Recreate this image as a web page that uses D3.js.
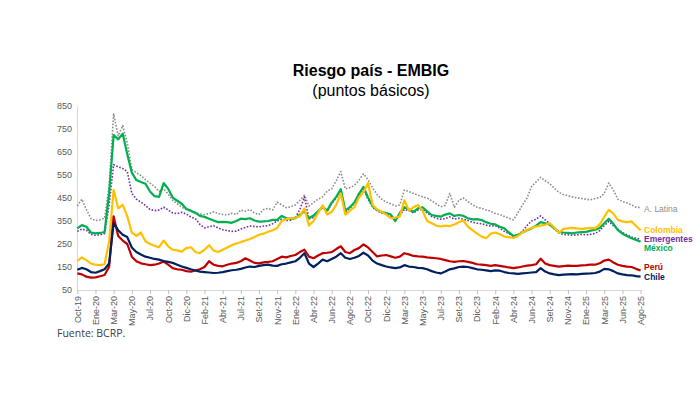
<!DOCTYPE html>
<html>
<head>
<meta charset="utf-8">
<script src="https://cdn.jsdelivr.net/npm/d3@7"></script>
<style>
  body { margin: 0; background: #fff; }
  svg { display: block; }
</style>
</head>
<body>
<div id="chart"></div>
<script>
// tick labels on the category axis (evenly spaced)
const tickLabels = ["Oct-19","Ene-20","Mar-20","May-20","Jul-20","Oct-20","Dic-20","Feb-21","Abr-21","Jul-21",
  "Set-21","Nov-21","Ene-22","Abr-22","Jun-22","Ago-22","Oct-22","Dic-22","Mar-23","May-23","Jul-23",
  "Set-23","Dic-23","Feb-24","Abr-24","Jun-24","Set-24","Nov-24","Ene-25","Mar-25","Jun-25","Ago-25"];

const step = 0.25;

const aLatina = [415,445,400,360, 352,355,362,500, 815,720,765,690, 575,560,548,530, 515,500,478,490,
  468,440,425,410, 400,392,388,380, 378,382,390,383, 378,376,384,378, 398,392,400,385,
  378,400,405,398, 432,420,408,412, 420,440,462,415, 430,445,455,480, 490,525,565,490,
  495,505,528,555, 530,495,465,445, 432,425,415,420, 485,478,470,462, 455,450,438,425,
  412,418,470,410, 440,450,435,420, 410,405,398,392, 383,378,370,362, 355,385,420,450,
  500,520,540,525, 512,492,475,465, 460,455,450,448, 445,442,448,452, 470,515,485,445,
  435,428,420,410, 408];

const mexico = [318,332,325,300, 296,298,302,470, 724,705,730,640, 560,528,520,512, 478,458,455,515,
  490,452,438,425, 402,395,385,372, 368,360,352,345, 346,345,342,350, 360,358,362,352,
  347,348,350,355, 355,372,362,360, 362,378,392,362, 374,392,412,395, 430,455,488,395,
  410,430,468,498, 452,415,398,390, 385,378,350,385, 410,400,390,405, 410,392,376,372,
  369,378,383,372, 376,372,362,357, 358,354,345,338, 335,325,318,300, 285,290,300,310,
  318,330,345,340, 334,318,303,300, 298,296,300,302, 303,308,312,320, 340,360,338,310,
  295,285,275,268, 260];

const emergentes = [305,315,310,292, 288,290,295,420, 595,585,578,565, 470,445,432,418, 400,395,398,410,
  398,385,382,388, 380,368,360,335, 320,325,330,320, 312,308,305,306, 315,322,328,326,
  325,328,330,338, 350,358,352,354, 365,400,455,360, 365,390,410,392, 425,452,480,390,
  405,428,460,490, 445,410,395,385, 378,372,352,375, 400,395,385,398, 400,385,370,362,
  358,360,368,358, 362,358,352,345, 340,338,332,328, 330,318,305,295, 284,290,305,330,
  350,358,372,355, 340,315,298,292, 290,288,290,292, 290,292,296,308, 330,348,330,315,
  300,290,280,275, 272];

const colombia = [176,192,180,165, 160,158,162,260, 485,405,420,370, 300,285,300,262, 250,242,236,265,
  240,225,222,217, 232,236,215,210, 225,245,222,215, 225,235,245,252, 258,265,272,280,
  290,295,303,310, 320,350,358,362, 365,370,405,330, 350,385,418,378, 390,420,470,378,
  395,410,452,475, 515,420,400,390, 378,362,365,370, 440,395,410,420, 395,350,340,330,
  326,330,328,335, 345,352,325,310, 295,282,275,295, 300,292,282,280, 276,285,300,312,
  320,326,330,334, 340,322,298,316, 318,320,318,316, 318,320,318,335, 368,398,382,355,
  348,345,348,328, 310];

const peru = [122,118,108,104, 105,110,115,150, 370,285,265,250, 195,175,166,162, 158,160,165,174,
  160,145,140,138, 132,130,135,140, 150,175,160,155, 153,160,165,168, 175,188,178,168,
  166,170,172,175, 185,195,192,198, 202,215,225,195, 188,200,210,212, 215,228,240,215,
  210,224,232,248, 235,215,196,200, 202,196,190,195, 210,205,198,196, 195,192,190,188,
  185,180,175,172, 175,176,172,168, 162,160,158,155, 158,155,152,148, 145,148,152,156,
  158,162,186,165, 158,155,152,154, 156,155,155,157, 158,160,160,166, 178,182,170,160,
  155,152,150,142, 135];

const chile = [138,146,140,128, 125,132,140,165, 340,310,290,280, 235,215,204,195, 190,185,182,176,
  172,168,160,152, 146,140,135,130, 128,126,124,125, 128,132,136,138, 142,148,152,150,
  155,158,160,156, 155,162,165,170, 175,190,210,165, 150,165,182,175, 185,195,210,190,
  185,190,198,212, 200,178,165,158, 152,148,145,148, 158,152,150,146, 145,140,132,126,
  122,130,140,144, 150,152,150,145, 140,138,135,132, 135,134,128,124, 122,120,122,124,
  126,128,145,130, 122,118,115,117, 118,119,118,120, 121,122,124,130, 142,140,132,122,
  118,115,114,110, 108];

const yTicks = [50,150,250,350,450,550,650,750,850];

const series = [
  {name: "A. Latina", values: aLatina, color: "#8c8c8c", width: 1.6, dash: "1.6,1.6", labelY: 212, bold: false},
  {name: "Emergentes", values: emergentes, color: "#7030a0", width: 1.6, dash: "1.6,1.6", labelY: 242, bold: true},
  {name: "México", values: mexico, color: "#00b050", width: 2.2, dash: null, labelY: 251, bold: true},
  {name: "Colombia", values: colombia, color: "#ffc000", width: 2.2, dash: null, labelY: 233, bold: true},
  {name: "Perú", values: peru, color: "#c00000", width: 2.2, dash: null, labelY: 270, bold: true},
  {name: "Chile", values: chile, color: "#002060", width: 2.2, dash: null, labelY: 280, bold: true}
];

const W = 700, H = 395;
const svg = d3.select("#chart").append("svg")
  .attr("width", W)
  .attr("height", H)
  .style("font-family", "'Liberation Sans', Arial, sans-serif");

const x = d3.scaleLinear().domain([0, tickLabels.length - 1]).range([77.3, 640.6]);
const y = d3.scaleLinear().domain([50, 850]).range([290, 106]);

// title
svg.append("text")
  .attr("x", 371).attr("y", 76)
  .attr("text-anchor", "middle")
  .style("font-size", "16px").style("font-weight", "bold")
  .text("Riesgo país - EMBIG");
svg.append("text")
  .attr("x", 371).attr("y", 96)
  .attr("text-anchor", "middle")
  .style("font-size", "16px")
  .text("(puntos básicos)");

// y axis
const yAxis = svg.append("g")
  .attr("transform", "translate(77,0)")
  .call(d3.axisLeft(y).tickValues(yTicks).tickSize(0).tickPadding(5));
yAxis.select(".domain").attr("stroke", "#d9d9d9");
yAxis.selectAll("text").style("font-size", "9px").attr("fill", "#595959");

// x axis
const xAxis = svg.append("g")
  .attr("transform", "translate(0,290)")
  .call(d3.axisBottom(x).tickValues(d3.range(tickLabels.length))
    .tickFormat(i => tickLabels[i]).tickSize(4).tickSizeOuter(0));
xAxis.select(".domain").attr("stroke", "#d9d9d9");
xAxis.selectAll(".tick line").attr("stroke", "#bfbfbf");
xAxis.selectAll("text")
  .style("font-size", "9px")
  .attr("fill", "#595959")
  .attr("transform", "rotate(-90)")
  .attr("text-anchor", "end")
  .attr("x", -6)
  .attr("y", 0)
  .attr("dy", "0.32em");

// lines
const line = d3.line()
  .x((d, i) => x(i * step))
  .y(d => y(d));

svg.append("g").selectAll("path")
  .data(series)
  .join("path")
  .attr("fill", "none")
  .attr("stroke", d => d.color)
  .attr("stroke-width", d => d.width)
  .attr("stroke-dasharray", d => d.dash)
  .attr("stroke-linejoin", "round")
  .attr("d", d => line(d.values));

// end labels
svg.append("g").selectAll("text")
  .data(series)
  .join("text")
  .attr("x", 644)
  .attr("y", d => d.labelY)
  .attr("fill", d => d.color)
  .style("font-size", "8.5px")
  .style("font-weight", d => d.bold ? "bold" : "normal")
  .text(d => d.name);

// source
svg.append("text")
  .attr("x", 57).attr("y", 337)
  .attr("fill", "#404040")
  .style("font-family", "'Open Sans', 'DejaVu Sans', sans-serif")
  .style("font-size", "10.5px")
  .text("Fuente: BCRP.");
</script>
</body>
</html>
